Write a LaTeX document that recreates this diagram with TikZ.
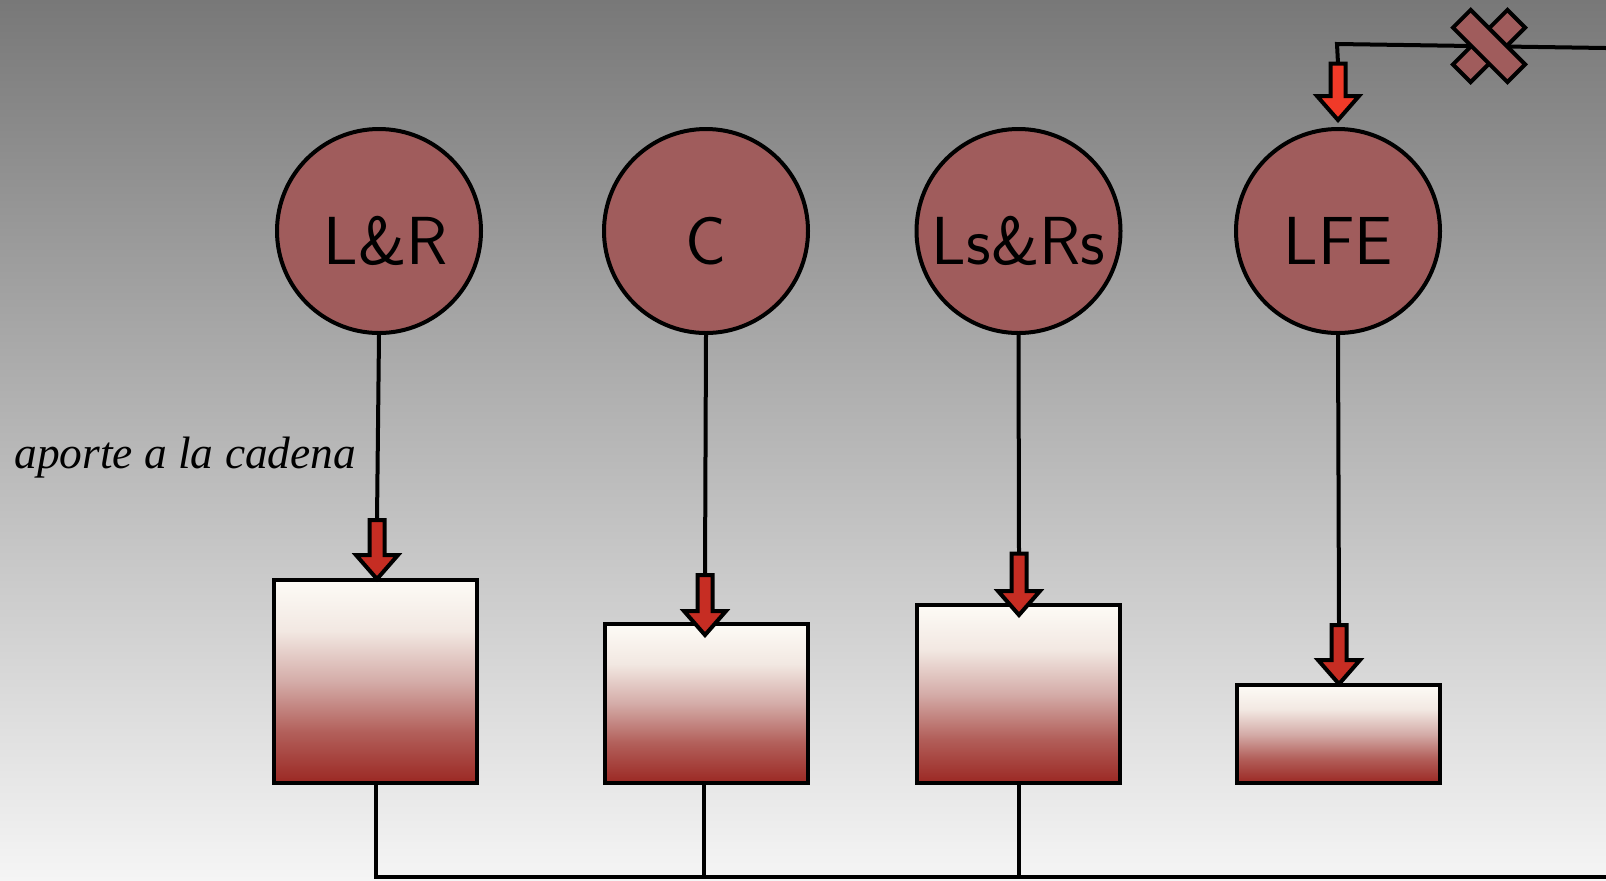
\documentclass[tikz,border=0pt]{standalone}
\usepackage{fontspec}
\newfontfamily\libserif{Liberation Serif}
\definecolor{bgtop}{RGB}{120,120,120}
\definecolor{bgmid}{RGB}{205,205,205}
\definecolor{bgbot}{RGB}{245,245,245}
\definecolor{disc}{RGB}{160,92,92}
\definecolor{arrred}{RGB}{198,45,35}
\definecolor{arrbright}{RGB}{240,58,40}
\definecolor{boxA}{RGB}{253,251,246}
\definecolor{boxB}{RGB}{242,232,226}
\definecolor{boxC}{RGB}{212,172,168}
\definecolor{boxD}{RGB}{178,95,90}
\definecolor{boxE}{RGB}{155,40,35}
\pgfdeclareverticalshading{meterfill}{100bp}{color(0bp)=(boxE); color(25bp)=(boxE); color(37.5bp)=(boxD); color(50bp)=(boxC); color(62.5bp)=(boxB); color(75bp)=(boxA); color(100bp)=(boxA)}
\begin{document}
\begin{tikzpicture}[x=0.5pt,y=-0.5pt,
  wire/.style={line width=2pt},
  disk/.style={circle, draw, line width=2pt, fill=disc, minimum size=102pt, inner sep=0pt,
    font=\sffamily\fontsize{34pt}{38pt}\selectfont, text height=33pt, text depth=0pt},
  meter/.style={rectangle, draw, line width=2pt, minimum width=101.5pt, inner sep=0pt,
    shading=meterfill},
  xbar/.style={rectangle, draw, line width=2pt, fill=disc, minimum width=38.5pt, minimum height=12.5pt, inner sep=0pt},
  pics/dnarrow/.style={code={
    \draw[pic actions, line width=2pt] (0,0) -- (-21,-24) -- (-7.5,-24) -- (-7.5,-#1) -- (7.5,-#1) -- (7.5,-24) -- (21,-24) -- cycle;}}
]
% background
\shade[top color=bgtop, middle color=bgmid, bottom color=bgbot] (0,0) rectangle (1606,880);
\useasboundingbox (0,0) rectangle (1606,880);

% circles
\node[disk] (cLR) at (379,231) {\hspace{7pt}L\&R};
\node[disk] (cC) at (706,231) {C};
\node[disk] (cLs) at (1018.5,231) {Ls\&Rs};
\node[disk] (cLFE) at (1338,231) {LFE};

% boxes
\node[meter, minimum height=101.5pt] (bLR) at (375.5,681.5) {};
\node[meter, minimum height=79.5pt] (bC) at (706.5,703.5) {};
\node[meter, minimum height=89pt] (bLs) at (1018.5,694) {};
\node[meter, minimum height=49pt] (bLFE) at (1338.5,734) {};

% arrow tips and tops
\coordinate (tLR) at (377,579);  \coordinate (aLR) at (377,520);
\coordinate (tC) at (705,635);   \coordinate (aC) at (705,575);
\coordinate (tLs) at (1019,615); \coordinate (aLs) at (1019,553.5);
\coordinate (tLFE) at (1339,684); \coordinate (aLFE) at (1339,625);
\coordinate (tTop) at (1338,120); \coordinate (aTop) at (1338,63.5);
\coordinate (kTop) at (1337,44);
\coordinate (eTop) at (1606,48);

% connectors
\draw[wire] (cLR.south) -- (aLR);
\draw[wire] (cC.south) -- (aC);
\draw[wire] (cLs.south) -- (aLs);
\draw[wire] (cLFE.south) -- (aLFE);
\draw[wire] (aTop) -- (kTop) -- (eTop);

% bottom bus
\coordinate (busL) at (376,877);
\coordinate (busC) at (704,877);
\coordinate (busLs) at (1019,877);
\coordinate (busE) at (1606,877);
\draw[wire] (busL |- bLR.south) -- (busL) -- (busE);
\draw[wire] (busC |- bC.south) -- (busC);
\draw[wire] (busLs |- bLs.south) -- (busLs);

% arrows
\pic[fill=arrred] at (tLR) {dnarrow=59};
\pic[fill=arrred] at (tC) {dnarrow=60};
\pic[fill=arrred] at (tLs) {dnarrow=61.5};
\pic[fill=arrred] at (tLFE) {dnarrow=59};
\pic[fill=arrbright] at (tTop) {dnarrow=56.5};

% cross mark
\node[xbar, rotate=45] (x1) at (1489,46) {};
\node[xbar, rotate=-45] (x2) at (1489,46) {};

% label
\node[anchor=base west, inner sep=0pt, font=\libserif\itshape\fontsize{22.7pt}{26pt}\selectfont] (lab) at (14,468) {aporte a la cadena};
\end{tikzpicture}
\end{document}
